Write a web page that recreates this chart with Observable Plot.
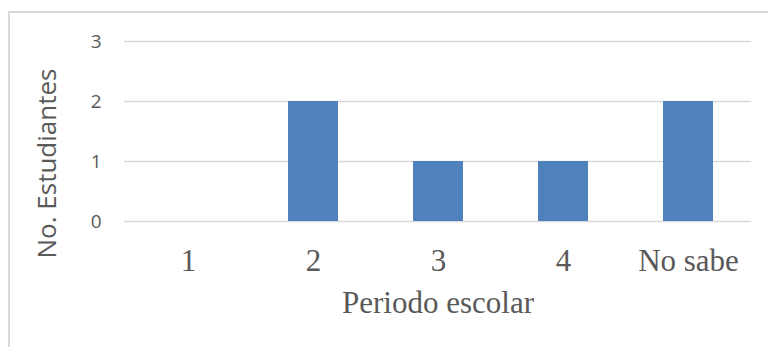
<!DOCTYPE html>
<html>
<head>
<meta charset="utf-8">
<script src="https://cdn.jsdelivr.net/npm/d3@7"></script>
<script src="https://cdn.jsdelivr.net/npm/@observablehq/plot@0.6"></script>
<style>
  html, body { margin: 0; padding: 0; background: #fff; overflow: hidden; }
  #wrap { position: relative; width: 768px; height: 347px; }
  #frame { position: absolute; left: 8px; top: 11px; width: 780px; height: 360px;
           border-left: 2px solid #d9d9d9; border-top: 2px solid #d9d9d9; box-sizing: border-box; }
  #chart { position: absolute; left: 0; top: 0; }
</style>
</head>
<body>
<div id="wrap"><div id="frame"></div><div id="chart"></div></div>
<script>
const categories = ["1", "2", "3", "4", "No sabe"];
const values = [0, 2, 1, 1, 2];
const yTicks = [0, 1, 2, 3];
const xTitle = "Periodo escolar";
const yTitle = "No. Estudiantes";

const data = categories.map((c, i) => ({cat: c, value: values[i]}));

const chart = Plot.plot({
  width: 768,
  height: 347,
  marginLeft: 124,
  marginRight: 17,
  marginTop: 41,
  marginBottom: 126,
  style: {background: "transparent", overflow: "visible"},
  x: {domain: categories, paddingInner: 0.6, paddingOuter: 0.3, label: null},
  y: {domain: [0, 3], label: null, axis: null},
  marks: [
    Plot.gridY(yTicks, {stroke: "#d9d9d9", strokeOpacity: 1, strokeWidth: 1.5}),
    Plot.barY(data, {x: "cat", y: "value", fill: "#4F81BD"}),
    Plot.text(yTicks, {y: d => d, text: d => String(d), frameAnchor: "left", textAnchor: "end", lineAnchor: "middle", dx: -23,
      fontFamily: "'Open Sans', sans-serif", fontSize: 19, fill: "#595959"}),
    Plot.axisX({tickSize: 0, tickPadding: 27, label: null,
      fontFamily: "'Liberation Serif', 'Times New Roman', serif", fontSize: 31, fill: "#595959"}),
    Plot.text([xTitle], {frameAnchor: "bottom", lineAnchor: "middle", textAnchor: "middle", dy: 82, text: d => d,
      fontFamily: "'Liberation Serif', 'Times New Roman', serif", fontSize: 31, fill: "#595959"}),
    Plot.text([yTitle], {frameAnchor: "left", lineAnchor: "middle", textAnchor: "middle", rotate: -90, dx: -77, dy: 32, text: d => d,
      fontFamily: "'Open Sans', sans-serif", fontSize: 26, fill: "#595959"})
  ]
});
document.getElementById("chart").appendChild(chart);
</script>
</body>
</html>
